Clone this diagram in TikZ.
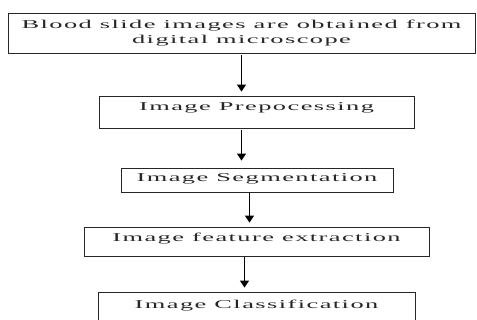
\documentclass[tikz,border=0pt]{standalone}
\usepackage{fontspec}
\newfontfamily\boxfont[FakeStretch=2.2,LetterSpace=12]{Liberation Serif}
\usetikzlibrary{arrows.meta}
\begin{document}
\begin{tikzpicture}[x=1pt,y=-1pt,
  stepbox/.style={draw=black!85, line width=0.9pt, inner sep=0pt, font=\boxfont\fontsize{12}{15.5}\selectfont, text=black!85},
  arr/.style={draw=black, line width=1.4pt, -{Triangle[width=9pt,length=7pt]}}]
\useasboundingbox (0,0) rectangle (477,320);
\node[stepbox, minimum width=467pt, minimum height=40pt, align=center] (b1) at (241.5,33)
  {Blood slide images are obtained from\\digital microscope};
\node[stepbox, minimum width=315pt, minimum height=32pt, text height=8pt, text depth=10pt] (b2) at (256.5,112) {Image Prepocessing};
\node[stepbox, minimum width=272pt, minimum height=24pt, text height=8pt, text depth=4pt] (b3) at (257,180) {Image Segmentation};
\node[stepbox, minimum width=345pt, minimum height=29pt, text height=8pt, text depth=7pt] (b4) at (256.5,241.5) {Image feature extraction};
\node[stepbox, minimum width=317pt, minimum height=32pt, text height=8pt, text depth=6pt] (b5) at (256.5,308) {Image Classification};
\draw[arr, shorten <=2pt, shorten >=4pt] (b1.south) -- (b1.south |- b2.north);
\draw[arr, shorten <=2pt, shorten >=7pt] ([xshift=-15pt]b2.south) -- ([xshift=-15pt]b2.south |- b3.north);
\draw[arr, shorten <=1pt, shorten >=4pt] ([xshift=-7.5pt]b3.south) -- ([xshift=-7.5pt]b3.south |- b4.north);
\draw[arr, shorten <=1pt, shorten >=4pt] ([xshift=-12pt]b4.south) -- ([xshift=-12pt]b4.south |- b5.north);
\end{tikzpicture}
\end{document}
